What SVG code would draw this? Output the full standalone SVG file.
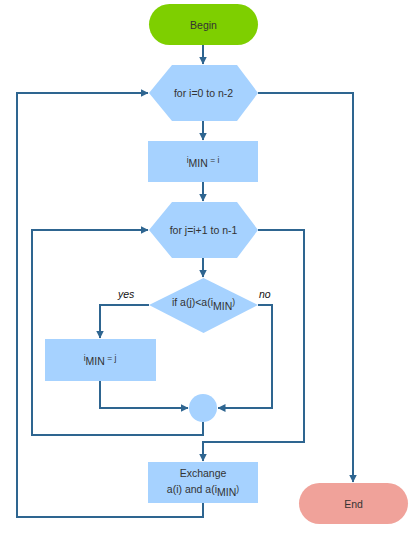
<svg xmlns="http://www.w3.org/2000/svg" width="415" height="536" viewBox="0 0 415 536">
<defs>
<marker id="arr" markerWidth="8" markerHeight="8" viewBox="0 0 8 8" refX="7.5" refY="4" orient="auto" markerUnits="userSpaceOnUse">
<path d="M0,0 L8,4 L0,8 Z" fill="#2E6590"/>
</marker>
<style>
.node{fill:#A6D2FF;}
.t{font-family:"Liberation Sans",Arial,sans-serif;font-size:10.5px;fill:#333;text-anchor:middle;}
.s{font-size:8.5px;}
.lbl{font-family:"Liberation Sans",Arial,sans-serif;font-size:10.5px;font-style:italic;fill:#111;}
.c{fill:none;stroke:#2E6590;stroke-width:2;}
.ca{fill:none;stroke:#2E6590;stroke-width:2;marker-end:url(#arr);}
</style>
</defs>
<rect width="415" height="536" fill="#fff"/>
<g id="connectors">
<path class="ca" d="M203,45 V64"/>
<path class="ca" d="M203,121 V140"/>
<path class="ca" d="M203,182 V201"/>
<path class="ca" d="M203,258 V277"/>
<path class="ca" d="M149,305 H100 V338"/>
<path class="ca" d="M100,381 V408 H188"/>
<path class="ca" d="M258,305 H272 V408 H218"/>
<path class="ca" d="M203,422 V435 H32 V230 H148"/>
<path class="ca" d="M258,230 H304 V442 H203 V461"/>
<path class="ca" d="M203,503 V517 H17 V93 H148"/>
<path class="ca" d="M258,93 H353 V482"/>
</g>
<g id="begin">
<rect x="149" y="4" width="109" height="41" rx="20.5" fill="#7ECF00"/>
<text class="t" x="203.5" y="29">Begin</text>
</g>
<g id="loop-i">
<polygon class="node" points="149,93 172,65 237,65 258,93 237,121 172,121"/>
<text class="t" x="203.5" y="97">for i=0 to n-2</text>
</g>
<g id="init-min">
<rect class="node" x="148" y="141" width="110" height="41"/>
<text class="t" x="203" y="167"><tspan class="s" dy="-4">i</tspan><tspan dy="4">MIN</tspan><tspan class="s" dy="-4"> = i</tspan></text>
</g>
<g id="loop-j">
<polygon class="node" points="149,230 172,202 237,202 258,230 237,258 172,258"/>
<text class="t" x="203.5" y="234">for j=i+1 to n-1</text>
</g>
<g id="cond">
<polygon class="node" points="149,305 203.5,278 258,305 203.5,333"/>
<text class="t" x="203.5" y="306"><tspan>if a(j)&lt;a(i</tspan><tspan dy="4">MIN</tspan><tspan class="s" dy="-5">)</tspan></text>
<text class="lbl" x="118" y="298">yes</text>
<text class="lbl" x="259" y="298">no</text>
</g>
<g id="set-min">
<rect class="node" x="45" y="339" width="111" height="42"/>
<text class="t" x="100" y="365"><tspan class="s" dy="-4">i</tspan><tspan dy="4">MIN</tspan><tspan class="s" dy="-4"> = j</tspan></text>
</g>
<g id="join">
<circle class="node" cx="203" cy="408" r="14"/>
</g>
<g id="exchange">
<rect class="node" x="148" y="462" width="110" height="41"/>
<text class="t" x="203" y="477">Exchange</text>
<text class="t" x="203" y="493"><tspan>a(i) and a(i</tspan><tspan dy="3">MIN</tspan><tspan class="s" dy="-4">)</tspan></text>
</g>
<g id="end">
<rect x="299" y="483" width="109" height="41" rx="20.5" fill="#F0A29A"/>
<text class="t" x="353.5" y="508">End</text>
</g>
</svg>
